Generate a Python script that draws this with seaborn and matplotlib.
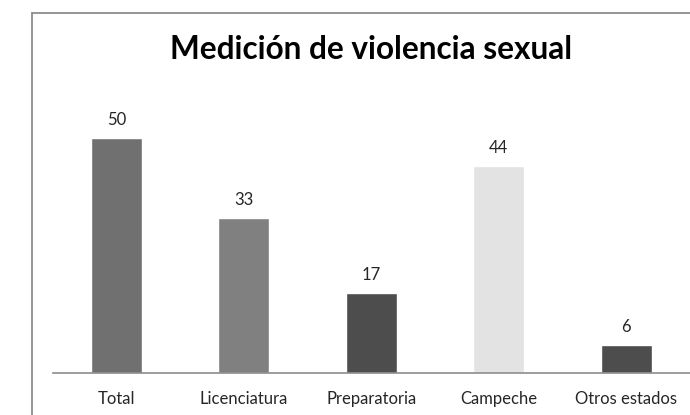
import matplotlib
matplotlib.use("Agg")
import matplotlib.pyplot as plt
import seaborn as sns
import pandas as pd
from matplotlib.patches import Rectangle

# data
categories = ["Total", "Licenciatura", "Preparatoria", "Campeche", "Otros estados"]
values = [50, 33, 17, 44, 6]
bar_colors = ["#707070", "#808080", "#4d4d4d", "#e3e3e3", "#4d4d4d"]
title = "Medición de violencia sexual"

df = pd.DataFrame({"categoria": categories, "valor": values})

sns.set_style("white")
plt.rcParams["font.family"] = ["Lato", "DejaVu Sans"]

fig = plt.figure(figsize=(6.9, 4.15), dpi=100)
ax = fig.add_axes([52.5 / 690, 1 - 373 / 415, (690 - 52.5) / 690, 282 / 415])

sns.barplot(data=df, x="categoria", y="valor", hue="categoria",
            palette=dict(zip(categories, bar_colors)), width=0.4,
            legend=False, ax=ax, saturation=1)

ax.set_xlim(-0.5, 4.5)
ax.set_ylim(0, 60)
ax.set_xlabel("")
ax.set_ylabel("")
ax.set_yticks([])
for side in ["top", "right", "left"]:
    ax.spines[side].set_visible(False)
ax.spines["bottom"].set_color("#8c8c8c")
ax.spines["bottom"].set_linewidth(1.2)
ax.tick_params(axis="x", length=0, pad=13, labelsize=12, labelcolor="#262626")

for c in ax.containers:
    ax.bar_label(c, padding=7, fontsize=12, color="#262626")

# outer chart border (cropped at right and bottom)
fig.patches.append(Rectangle((32 / 690, -0.2), 2, (1 - 13 / 415) + 0.2,
                             transform=fig.transFigure, fill=False,
                             edgecolor="#8c8c8c", linewidth=1.3))

fig.text(371 / 690, 1 - 59 / 415, title, ha="center", va="baseline",
         fontsize=22.7, fontweight="bold", color="black")

fig.savefig("out.png", dpi=100)
